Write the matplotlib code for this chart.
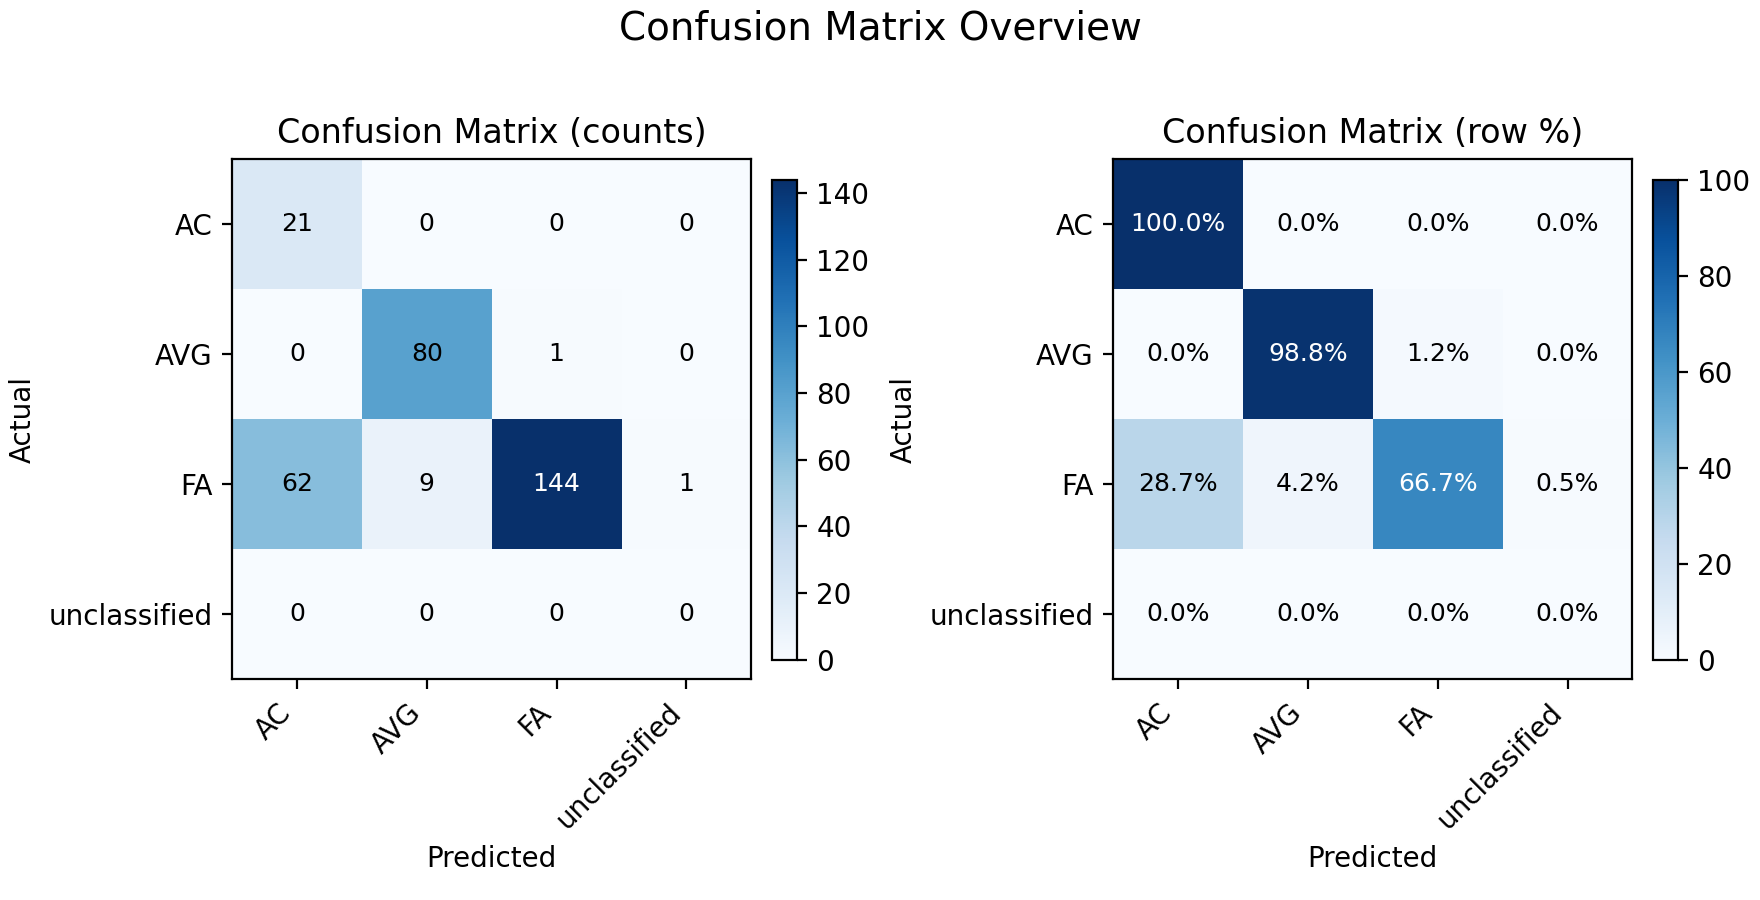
import numpy as np
import matplotlib
matplotlib.use("Agg")
import matplotlib.pyplot as plt

labels = ["AC", "AVG", "FA", "unclassified"]
counts = np.array([
    [21, 0, 0, 0],
    [0, 80, 1, 0],
    [62, 9, 144, 1],
    [0, 0, 0, 0],
])

row_sums = counts.sum(axis=1, keepdims=True)
pct = np.divide(counts * 100.0, row_sums, out=np.zeros(counts.shape), where=row_sums != 0)

fig = plt.figure(figsize=(8.8, 4.5), dpi=200)
ax1 = fig.add_axes([0.1314, 0.2456, 0.2959, 0.5773])
cb1 = fig.add_axes([0.4388, 0.2668, 0.0140, 0.5337])
ax2 = fig.add_axes([0.6320, 0.2456, 0.2959, 0.5773])
cb2 = fig.add_axes([0.9394, 0.2668, 0.0140, 0.5337])

def draw(ax, cax, mat, fmt, title):
    im = ax.imshow(mat, cmap="Blues", interpolation="nearest")
    fig.colorbar(im, cax=cax)
    ax.set_title(title)
    ax.set_xticks(range(len(labels)))
    ax.set_yticks(range(len(labels)))
    ax.set_xticklabels(labels, rotation=45, ha="right")
    ax.set_yticklabels(labels)
    ax.set_xlabel("Predicted")
    ax.set_ylabel("Actual")
    thresh = mat.max() * 0.6
    for i in range(mat.shape[0]):
        for j in range(mat.shape[1]):
            ax.text(j, i, fmt(mat[i, j]), ha="center", va="center", fontsize=9,
                    color="white" if mat[i, j] > thresh else "black")

draw(ax1, cb1, counts, lambda v: f"{int(v)}", "Confusion Matrix (counts)")
draw(ax2, cb2, pct, lambda v: f"{v:.1f}%", "Confusion Matrix (row %)")

fig.suptitle("Confusion Matrix Overview", fontsize=14, y=0.99)
fig.savefig("out.png")
